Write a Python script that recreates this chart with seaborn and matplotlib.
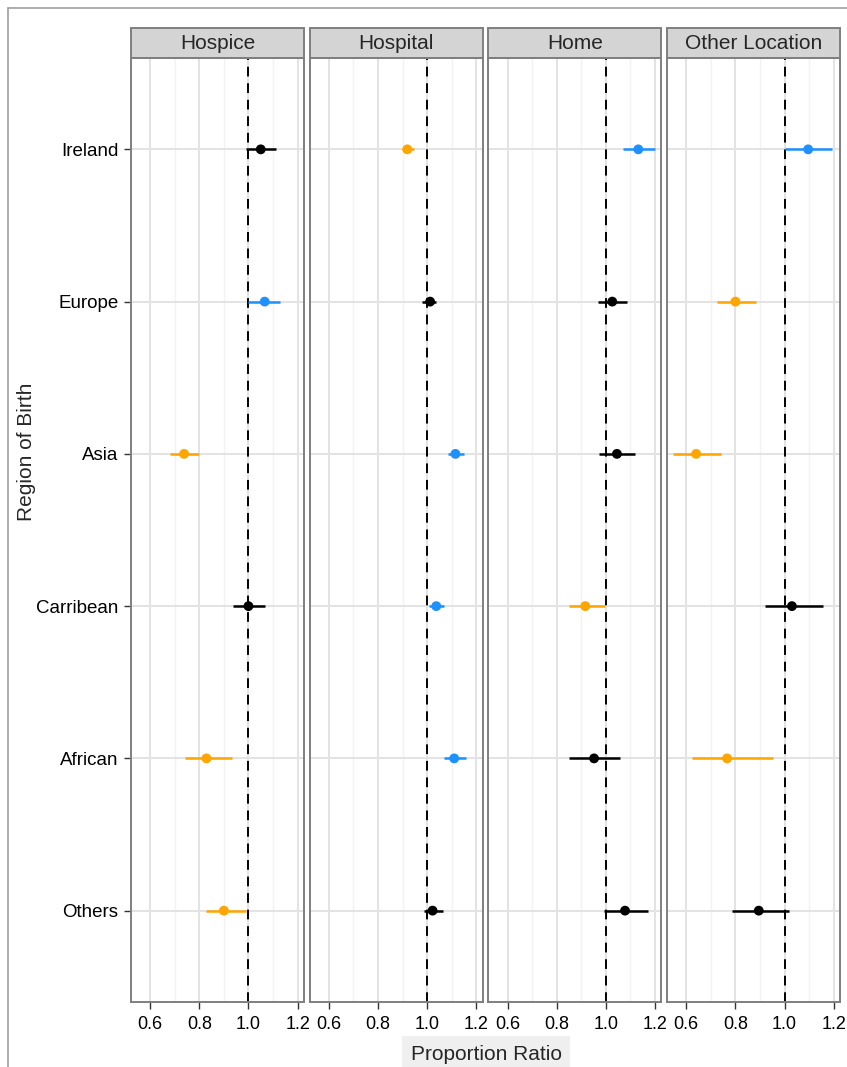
import matplotlib
matplotlib.use("Agg")
import matplotlib.pyplot as plt
from matplotlib.patches import Rectangle
from matplotlib.lines import Line2D
import pandas as pd
import seaborn as sns

# --- data ---
regions = ["Ireland", "Europe", "Asia", "Carribean", "African", "Others"]
locations = ["Hospice", "Hospital", "Home", "Other Location"]

hospice_pr = [1.050, 1.066, 0.738, 1.000, 0.829, 0.900]
hospice_lo = [0.990, 1.000, 0.680, 0.937, 0.740, 0.827]
hospice_hi = [1.113, 1.130, 0.800, 1.069, 0.935, 0.990]
hospice_sig = ["ns", "higher", "lower", "ns", "lower", "lower"]

hospital_pr = [0.919, 1.012, 1.115, 1.037, 1.110, 1.022]
hospital_lo = [0.897, 0.981, 1.084, 1.006, 1.067, 0.987]
hospital_hi = [0.946, 1.035, 1.149, 1.070, 1.160, 1.065]
hospital_sig = ["lower", "ns", "higher", "higher", "higher", "ns"]

home_pr = [1.132, 1.026, 1.045, 0.916, 0.952, 1.078]
home_lo = [1.071, 0.967, 0.974, 0.851, 0.852, 0.993]
home_hi = [1.198, 1.087, 1.119, 0.995, 1.058, 1.170]
home_sig = ["higher", "ns", "ns", "lower", "ns", "ns"]

other_pr = [1.096, 0.800, 0.640, 1.030, 0.766, 0.895]
other_lo = [1.000, 0.724, 0.547, 0.920, 0.624, 0.786]
other_hi = [1.192, 0.882, 0.741, 1.157, 0.951, 1.020]
other_sig = ["higher", "lower", "lower", "ns", "lower", "ns"]

x_ticks = [0.6, 0.8, 1.0, 1.2]
x_minor = [0.7, 0.9, 1.1]

palette = {"ns": "black", "higher": "#1E90FF", "lower": "#FFA500"}

frames = []
for loc, pr, lo, hi, sig in [
    ("Hospice", hospice_pr, hospice_lo, hospice_hi, hospice_sig),
    ("Hospital", hospital_pr, hospital_lo, hospital_hi, hospital_sig),
    ("Home", home_pr, home_lo, home_hi, home_sig),
    ("Other Location", other_pr, other_lo, other_hi, other_sig),
]:
    frames.append(pd.DataFrame({"location": loc, "region": regions,
                                "pr": pr, "lo": lo, "hi": hi, "sig": sig}))
df = pd.concat(frames, ignore_index=True)

sns.set_theme(style="white")
plt.rcParams["font.family"] = ["Liberation Sans", "DejaVu Sans"]

W, H = 847, 1067
fig = plt.figure(figsize=(W / 100, H / 100), dpi=100)

panel_w = 173
panel_top, panel_bot = 58, 1002
strip_h = 30
grey = "#7F7F7F"

for i, loc in enumerate(locations):
    left = 131 + i * 178.7
    ax = fig.add_axes([left / W, (H - panel_bot) / H, panel_w / W,
                       (panel_bot - panel_top) / H])
    sub = df[df["location"] == loc]

    ax.set_xlim(0.522, 1.226)
    ax.set_ylim(5.6, -0.6)

    # grid
    for v in x_minor:
        ax.axvline(v, color="#F2F2F2", lw=1.0, zorder=0)
    for v in x_ticks:
        ax.axvline(v, color="#E3E3E3", lw=1.4, zorder=0)
    for j in range(len(regions)):
        ax.axhline(j, color="#E3E3E3", lw=1.4, zorder=0)

    ax.axvline(1.0, color="black", lw=1.4, ls=(0, (5, 3.5)), zorder=1)

    ypos = [regions.index(r) for r in sub["region"]]
    for (_, row), y in zip(sub.iterrows(), ypos):
        ax.hlines(y, row["lo"], row["hi"], color=palette[row["sig"]],
                  lw=1.8, zorder=2)
    sub = sub.assign(y=ypos)
    sns.scatterplot(data=sub, x="pr", y="y", hue="sig", palette=palette,
                    s=50, edgecolor="none", legend=False, ax=ax, zorder=3)

    ax.set_xticks(x_ticks)
    ax.set_xticklabels([f"{v:.1f}" for v in x_ticks])
    ax.set_yticks(range(len(regions)))
    if i == 0:
        ax.set_yticklabels(regions)
    else:
        ax.set_yticklabels([])
        ax.tick_params(axis="y", length=0)
    ax.set_xlabel("")
    ax.set_ylabel("")
    ax.tick_params(axis="x", bottom=True, length=5, width=1, color="#333333",
                   labelsize=13, pad=5, labelcolor="black")
    ax.tick_params(axis="y", left=(i == 0), length=5, width=1,
                   color="#333333", labelsize=13.5, pad=4, labelcolor="black")
    for sp in ax.spines.values():
        sp.set_color(grey)
        sp.set_linewidth(1.4)

    # facet strip
    ax.add_patch(Rectangle((0, 1), 1, strip_h / (panel_bot - panel_top),
                           transform=ax.transAxes, facecolor="#D4D4D4",
                           edgecolor=grey, lw=1.4, clip_on=False))
    ax.text(0.5, 1 + strip_h / 2 / (panel_bot - panel_top), loc,
            transform=ax.transAxes, ha="center", va="center", fontsize=15)

fig.text(27 / W, 1 - 452 / H, "Region of Birth", rotation=90,
         ha="center", va="center", fontsize=15)
fig.text(486 / W, 1 - 1054 / H, "Proportion Ratio", ha="center",
         va="center", fontsize=15,
         bbox=dict(facecolor="#EFEFEF", edgecolor="none",
                   boxstyle="square,pad=0.4"))

# outer frame from the source image
fig.add_artist(Line2D([8 / W, 8 / W], [0, 1 - 8 / H], color="#A0A0A0",
                      lw=1.2, transform=fig.transFigure))
fig.add_artist(Line2D([8 / W, 1], [1 - 8 / H, 1 - 8 / H], color="#A0A0A0",
                      lw=1.2, transform=fig.transFigure))

fig.savefig("out.png", dpi=100)
